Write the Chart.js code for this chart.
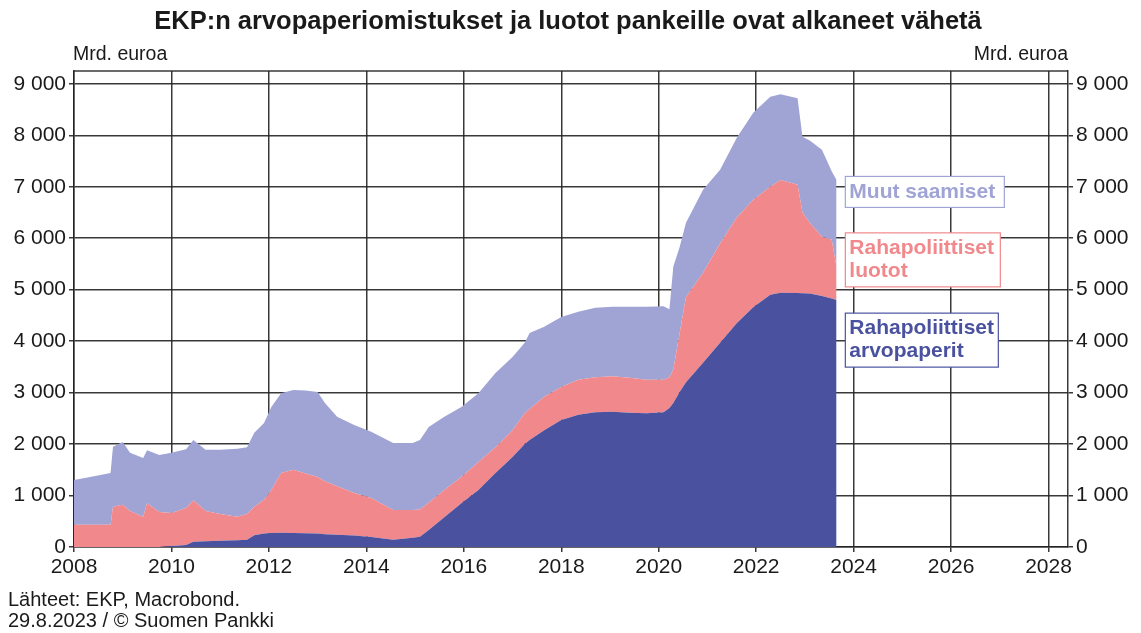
<!DOCTYPE html>
<html lang="fi">
<head>
<meta charset="utf-8">
<script src="https://cdn.jsdelivr.net/npm/chart.js@4.4.0/dist/chart.umd.min.js"></script>
<style>
  html, body { margin: 0; padding: 0; background: #fff; }
  canvas { display: block; }
</style>
</head>
<body>
<canvas id="grafiikka" width="1141" height="633"></canvas>
<script>
// Aikapisteet (vuosina) ja sarjat, mrd. euroa
const vuodet = [
    2008.00, 2008.33, 2008.75, 2008.80, 2009.00, 2009.15, 2009.42, 2009.50, 2009.75, 2010.00,
    2010.30, 2010.45, 2010.70, 2011.00, 2011.35, 2011.55, 2011.70, 2011.90, 2012.05, 2012.25,
    2012.50, 2012.75, 2013.00, 2013.15, 2013.40, 2013.75, 2014.10, 2014.55, 2014.95, 2015.10,
    2015.28, 2015.60, 2015.95, 2016.30, 2016.65, 2017.00, 2017.25, 2017.35, 2017.65, 2018.00,
    2018.35, 2018.70, 2019.05, 2019.40, 2019.75, 2020.10, 2020.22, 2020.30, 2020.43, 2020.56,
    2020.91, 2021.26, 2021.60, 2021.94, 2022.29, 2022.50, 2022.85, 2022.95, 2023.10, 2023.35,
    2023.55, 2023.65
];

const arvopaperit = [
    0, 0, 0, 0, 0, 0, 0, 0, 0, 20,
    40, 100, 110, 120, 130, 140, 230, 260, 270, 275,
    270, 265, 260, 250, 240, 225, 195, 140, 180, 200,
    330, 580, 850, 1110, 1440, 1750, 2000, 2080, 2270, 2470,
    2570, 2620, 2630, 2610, 2600, 2620, 2700, 2800, 3010, 3200,
    3580, 3970, 4350, 4660, 4900, 4940, 4935, 4930, 4925, 4880,
    4830, 4800
];

const luotot = [
    430, 430, 430, 780, 820, 700, 590, 850, 680, 640,
    720, 810, 590, 520, 460, 500, 550, 660, 840, 1165,
    1230, 1165, 1100, 1030, 940, 825, 755, 580, 540, 530,
    530, 530, 510, 540, 500, 520, 600, 600, 650, 640,
    680, 680, 690, 680, 650, 630, 600, 650, 1150, 1660,
    1750, 1930, 2050, 2090, 2100, 2190, 2105, 1570, 1375, 1150,
    1140, 640
];

const muutSaamiset = [
    870, 930, 1010, 1170, 1220, 1130, 1140, 1030, 1110, 1170,
    1140, 1170, 1190, 1250, 1320, 1300, 1440, 1490, 1610, 1550,
    1550, 1610, 1650, 1520, 1350, 1320, 1290, 1300, 1300, 1350,
    1470, 1420, 1360, 1340, 1440, 1420, 1370, 1480, 1360, 1360,
    1320, 1350, 1350, 1380, 1420, 1430, 1320, 2000, 1670, 1440,
    1610, 1430, 1550, 1690, 1750, 1670, 1680, 1470, 1600, 1690,
    1330, 1690
];

const xTikit = [2008, 2010, 2012, 2014, 2016, 2018, 2020, 2022, 2024, 2026, 2028];
const yTikit = [0, 1000, 2000, 3000, 4000, 5000, 6000, 7000, 8000, 9000];

const sarjaNimet = ['Rahapoliittiset arvopaperit', 'Rahapoliittiset luotot', 'Muut saamiset'];
const varit = ['#4a52a0', '#f0888c', '#a0a4d4'];

const fontti = '"Liberation Sans", Arial, sans-serif';
const viivanVari = 'rgba(35,35,35,0.9)';

function muotoile(arvo) {
    return String(arvo).replace(/\B(?=(\d{3})+(?!\d))/g, ' ');
}

function pisteet(sarja) {
    return vuodet.map((v, i) => ({ x: v, y: sarja[i] }));
}

// Otsikot, yksikot, lahteet ja sarjojen nimilaatikot
const tekstit = {
    id: 'tekstit',
    afterDraw(chart) {
        const ctx = chart.ctx;
        const alue = chart.chartArea;
        ctx.save();

        // kehyksen ylareuna
        ctx.strokeStyle = viivanVari;
        ctx.lineWidth = 1.5;
        ctx.beginPath();
        ctx.moveTo(alue.left, alue.top);
        ctx.lineTo(alue.right, alue.top);
        ctx.stroke();

        ctx.fillStyle = '#1a1a1a';
        ctx.textBaseline = 'middle';

        ctx.font = 'bold 25.5px ' + fontti;
        ctx.textAlign = 'center';
        ctx.fillText('EKP:n arvopaperiomistukset ja luotot pankeille ovat alkaneet vähetä', 568, 22);

        ctx.font = '19.5px ' + fontti;
        ctx.textAlign = 'left';
        ctx.fillText('Mrd. euroa', alue.left - 1, 55);
        ctx.textAlign = 'right';
        ctx.fillText('Mrd. euroa', alue.right, 55);

        ctx.font = '20px ' + fontti;
        ctx.textAlign = 'left';
        ctx.fillText('Lähteet: EKP, Macrobond.', 8, 600);
        ctx.fillText('29.8.2023 / © Suomen Pankki', 8, 621);

        // nimilaatikot sarjojen oikealle puolelle
        const x = chart.scales.x;
        const y = chart.scales.y;
        const laatikot = [
            { rivit: ['Muut saamiset'], arvo: 6900, leveys: 159, vari: varit[2] },
            { rivit: ['Rahapoliittiset', 'luotot'], arvo: 5580, leveys: 155, vari: varit[1] },
            { rivit: ['Rahapoliittiset', 'arvopaperit'], arvo: 4020, leveys: 153, vari: varit[0] }
        ];
        ctx.font = 'bold 21px ' + fontti;
        laatikot.forEach(l => {
            const vasen = x.getPixelForValue(2023.83);
            const keski = y.getPixelForValue(l.arvo);
            const korkeus = l.rivit.length === 1 ? 31 : 54;
            const yla = keski - korkeus / 2;
            ctx.fillStyle = '#fff';
            ctx.fillRect(vasen, yla, l.leveys, korkeus);
            ctx.strokeStyle = l.vari;
            ctx.lineWidth = 1.2;
            ctx.strokeRect(vasen, yla, l.leveys, korkeus);
            ctx.fillStyle = l.vari;
            ctx.textAlign = 'left';
            l.rivit.forEach((r, i) => {
                const rivinY = l.rivit.length === 1 ? keski : yla + 15 + i * 23;
                ctx.fillText(r, vasen + 4, rivinY);
            });
        });
        ctx.restore();
    }
};

const ruudukko = {
    color: viivanVari,
    lineWidth: 1.5,
    tickLength: 5,
    tickColor: viivanVari
};

const tikkiFontti = { family: fontti, size: 21 };

const ctx = document.getElementById('grafiikka').getContext('2d');
new Chart(ctx, {
    type: 'line',
    data: {
        datasets: [
            { label: sarjaNimet[0], data: pisteet(arvopaperit), backgroundColor: varit[0], fill: 'origin' },
            { label: sarjaNimet[1], data: pisteet(luotot), backgroundColor: varit[1], fill: '-1' },
            { label: sarjaNimet[2], data: pisteet(muutSaamiset), backgroundColor: varit[2], fill: '-1' }
        ].map(d => Object.assign(d, {
            borderWidth: 0,
            borderColor: 'rgba(0,0,0,0)',
            pointRadius: 0,
            tension: 0,
            yAxisID: 'y'
        }))
    },
    options: {
        responsive: false,
        animation: false,
        layout: { padding: { top: 71, left: 0, right: 0, bottom: 0 } },
        plugins: {
            legend: { display: false },
            title: { display: false },
            tooltip: { enabled: false }
        },
        scales: {
            x: {
                type: 'linear',
                min: 2008,
                max: 2028.4,
                grid: ruudukko,
                border: { color: viivanVari, width: 1.5 },
                ticks: {
                    maxRotation: 0,
                    autoSkip: false,
                    padding: 3,
                    color: '#1a1a1a',
                    font: tikkiFontti,
                    callback: v => String(v)
                },
                afterBuildTicks: s => { s.ticks = xTikit.map(v => ({ value: v })); },
                afterFit: s => { s.height = 86; }
            },
            y: {
                position: 'left',
                stacked: true,
                min: 0,
                max: 9250,
                grid: ruudukko,
                border: { color: viivanVari, width: 1.5 },
                ticks: {
                    autoSkip: false,
                    padding: 3,
                    color: '#1a1a1a',
                    font: tikkiFontti,
                    callback: v => muotoile(v)
                },
                afterBuildTicks: s => { s.ticks = yTikit.map(v => ({ value: v })); },
                afterFit: s => { s.width = 74; }
            },
            y2: {
                position: 'right',
                min: 0,
                max: 9250,
                grid: Object.assign({}, ruudukko, { drawOnChartArea: false }),
                border: { color: viivanVari, width: 1.5 },
                ticks: {
                    autoSkip: false,
                    padding: 3,
                    color: '#1a1a1a',
                    font: tikkiFontti,
                    callback: v => muotoile(v)
                },
                afterBuildTicks: s => { s.ticks = yTikit.map(v => ({ value: v })); },
                afterFit: s => { s.width = 73; }
            }
        }
    },
    plugins: [tekstit]
});
</script>
</body>
</html>
